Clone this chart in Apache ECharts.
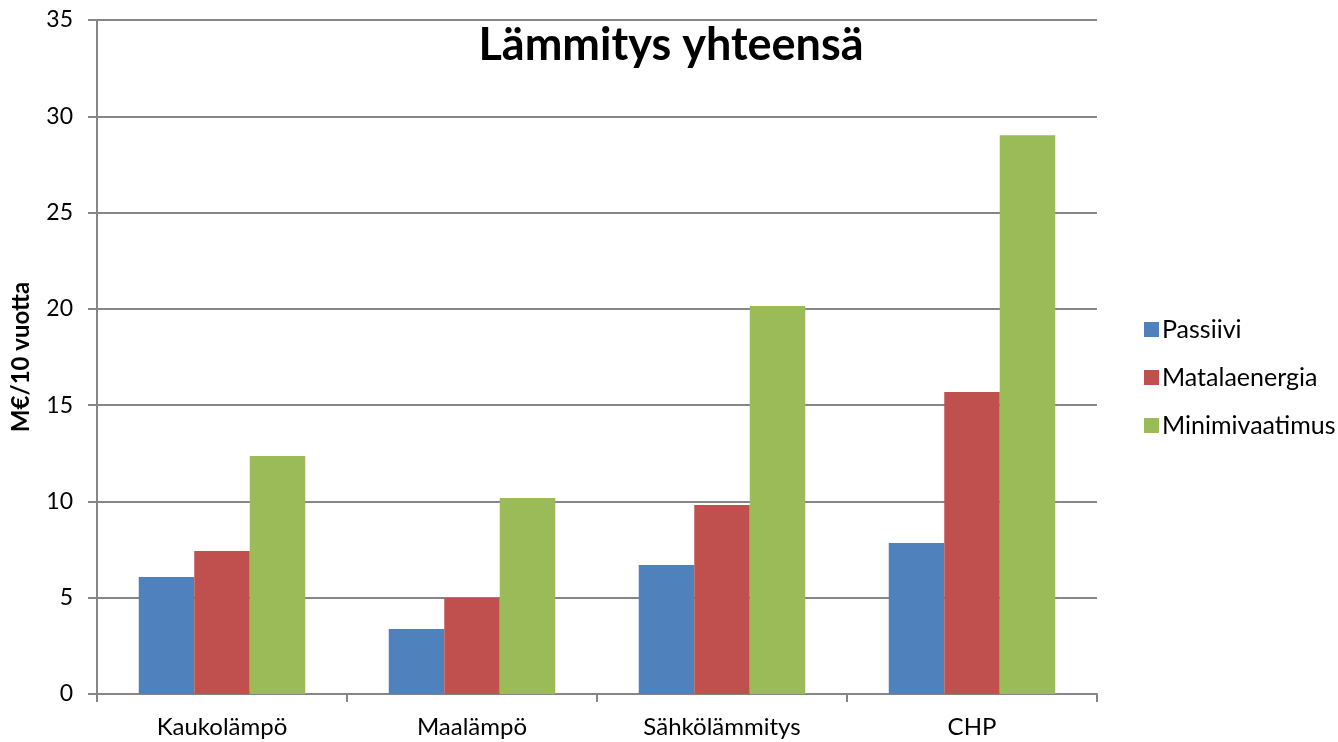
<!DOCTYPE html>
<html>
<head>
<meta charset="utf-8">
<script src="https://cdn.jsdelivr.net/npm/echarts@6/dist/echarts.min.js"></script>
<style>
  html, body { margin: 0; padding: 0; background: #fff; }
  #chart { width: 1338px; height: 742px; }
</style>
</head>
<body>
<div id="chart"></div>
<script>
// lämmitystavat
var categories = ['Kaukolämpö', 'Maalämpö', 'Sähkölämmitys', 'CHP'];
var seriesNames = ['Passiivi', 'Matalaenergia', 'Minimivaatimus'];
var passiivi = [6.07, 3.37, 6.70, 7.84];
var matalaenergia = [7.42, 4.98, 9.81, 15.68];
var minimivaatimus = [12.36, 10.18, 20.15, 29.02];
var colors = ['#4F81BD', '#C0504D', '#9BBB59'];

var font = 'Lato, "Open Sans", sans-serif';
var myChart = echarts.init(document.getElementById('chart'));

var option = {
    animation: false,
    color: colors,
    textStyle: { fontFamily: font },
    title: {
        text: 'Lämmitys yhteensä',
        left: 666,
        textAlign: 'center',
        top: 18,
        textStyle: { fontFamily: font, fontSize: 45, fontWeight: 'bold', color: '#000' }
    },
    legend: {
        orient: 'vertical',
        left: 1139,
        top: 312,
        itemGap: 23,
        itemWidth: 15,
        itemHeight: 15,
        icon: 'rect',
        data: seriesNames,
        textStyle: { fontFamily: font, fontSize: 25, color: '#000', padding: [0, 0, 0, -2] }
    },
    grid: { left: 97, right: 241, top: 20, bottom: 48, containLabel: false, outerBoundsMode: 'none' },
    xAxis: {
        type: 'category',
        data: categories,
        axisLine: { lineStyle: { color: '#868686', width: 2 } },
        axisTick: { show: true, length: 8, inside: false, lineStyle: { color: '#868686', width: 2 } },
        axisLabel: { fontFamily: font, fontSize: 24, color: '#000', margin: 21 }
    },
    yAxis: {
        type: 'value',
        min: 0,
        max: 35,
        interval: 5,
        name: 'M€/10 vuotta',
        nameLocation: 'middle',
        nameGap: 64,
        nameRotate: 90,
        nameTextStyle: { fontFamily: font, fontSize: 24, fontWeight: 'bold', color: '#000' },
        axisLine: { show: true, lineStyle: { color: '#868686', width: 2 } },
        axisTick: { show: true, length: 9, lineStyle: { color: '#868686', width: 2 } },
        axisLabel: { fontFamily: font, fontSize: 23, color: '#000', margin: 24 },
        splitLine: { lineStyle: { color: '#868686', width: 2 } }
    },
    series: [
        { name: seriesNames[0], type: 'bar', data: passiivi, barGap: '0%', barCategoryGap: '33.4%' },
        { name: seriesNames[1], type: 'bar', data: matalaenergia, barGap: '0%', barCategoryGap: '33.4%' },
        { name: seriesNames[2], type: 'bar', data: minimivaatimus, barGap: '0%', barCategoryGap: '33.4%' }
    ]
};

myChart.setOption(option);
</script>
</body>
</html>
